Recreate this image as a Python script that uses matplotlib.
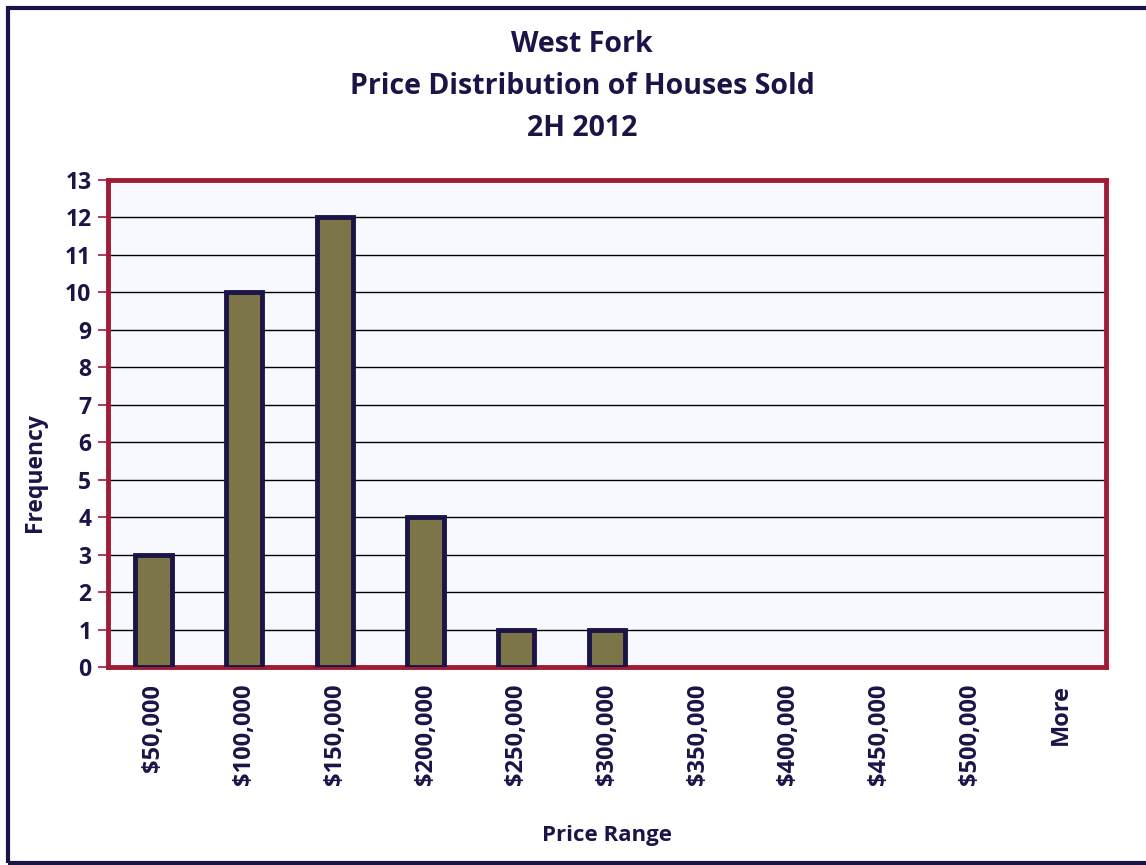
import matplotlib
matplotlib.use("Agg")
import matplotlib.pyplot as plt
from matplotlib.patches import Rectangle

# histogram bins and counts
bins = ["$50,000", "$100,000", "$150,000", "$200,000", "$250,000", "$300,000",
        "$350,000", "$400,000", "$450,000", "$500,000", "More"]
counts = [3, 10, 12, 4, 1, 1, 0, 0, 0, 0, 0]
title_lines = ["West Fork", "Price Distribution of Houses Sold", "2H 2012"]

navy = "#1B1446"
red = "#A01C35"
olive = "#7B7548"

plt.rcParams["font.family"] = ["Open Sans", "DejaVu Sans"]
plt.rcParams["font.weight"] = "bold"

fig = plt.figure(figsize=(11.46, 8.65), dpi=100)
W, H = 1146, 865

# outer chart frame, runs off the right edge
fig.patches.append(Rectangle((8 / W, 2 / H), 1.2, (H - 10) / H, transform=fig.transFigure,
                             fill=False, edgecolor=navy, linewidth=3))

ax = fig.add_axes([108 / W, 1 - 667 / H, (1106 - 108) / W, (667 - 180) / H])
ax.set_facecolor("#F8F9FE")

x = list(range(len(bins)))
# empty bins get no outline
edge_w = [3.5 if c > 0 else 0 for c in counts]
ax.bar(x, counts, width=0.4, color=olive, edgecolor=navy, linewidth=edge_w, zorder=3)

ax.set_xlim(-0.5, len(bins) - 0.5)
ax.set_ylim(0, 13)
ax.set_yticks(range(0, 14))
ax.grid(axis="y", color="black", linewidth=1, zorder=1)
ax.set_axisbelow(True)

for s in ax.spines.values():
    s.set_color(red)
    s.set_linewidth(3.5)

ax.tick_params(axis="y", colors=red, length=7, width=1.2, labelsize=16.5, labelcolor=navy, pad=5)
ax.tick_params(axis="x", length=0, labelsize=17, labelcolor=navy, pad=12)
ax.set_xticks(x)
ax.set_xticklabels(bins, rotation=90)
for t in ax.get_yticklabels() + ax.get_xticklabels():
    t.set_fontweight("bold")

ax.set_ylabel("Frequency", fontsize=16.5, color=navy, fontweight="bold", va="center")
ax.yaxis.set_label_coords(-73 / 998, (667 - 473) / 487)
ax.set_xlabel("Price Range", fontsize=16, color=navy, fontweight="bold", va="center")
ax.xaxis.set_label_coords(0.5, -(836 - 667) / 487)

for i, line in enumerate(title_lines):
    fig.text(582 / W, 1 - (44 + i * 42) / H, line, ha="center", va="center",
             fontsize=20.5, fontweight="bold", color=navy)

fig.savefig("out.png", dpi=100)
